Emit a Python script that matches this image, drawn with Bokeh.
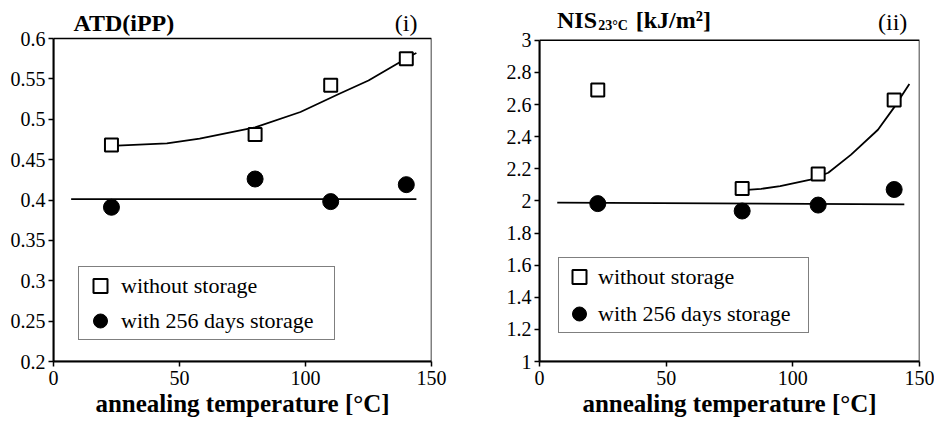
from bokeh.plotting import figure
from bokeh.layouts import row
from bokeh.models import Label, Legend, LegendItem, FixedTicker, BoxAnnotation
from bokeh.embed import file_html
from bokeh.resources import INLINE

# ---------------- data ----------------
temps = [23, 80, 110, 140]

atd_without = [0.468, 0.481, 0.542, 0.575]
atd_with = [0.391, 0.426, 0.398, 0.419]
atd_fit_x = [23, 45, 58, 80, 98, 113, 125, 142, 144]
atd_fit_y = [0.467, 0.470, 0.476, 0.490, 0.509, 0.531, 0.548, 0.579, 0.582]
atd_line_x = [7, 144]
atd_line_y = [0.401, 0.401]

nis_without = [2.690, 2.077, 2.168, 2.628]
nis_with = [1.983, 1.937, 1.974, 2.071]
nis_fit_x = [80.5, 87.5, 95, 107, 114, 123, 133.6, 140.2, 146]
nis_fit_y = [2.067, 2.075, 2.092, 2.133, 2.175, 2.288, 2.443, 2.587, 2.728]
nis_line_x = [7, 144]
nis_line_y = [1.989, 1.978]

x_ticks = [0, 50, 100, 150]
x_tick_labels = ["0", "50", "100", "150"]
atd_ticks = [0.2, 0.25, 0.3, 0.35, 0.4, 0.45, 0.5, 0.55, 0.6]
atd_tick_labels = ["0.2", "0.25", "0.3", "0.35", "0.4", "0.45", "0.5", "0.55", "0.6"]
nis_ticks = [1, 1.2, 1.4, 1.6, 1.8, 2, 2.2, 2.4, 2.6, 2.8, 3]
nis_tick_labels = ["1", "1.2", "1.4", "1.6", "1.8", "2", "2.2", "2.4", "2.6", "2.8", "3"]

x_label = "annealing temperature [°C]"
legend_labels = ["without storage", "with 256 days storage"]

FONT = "Liberation Serif"
X_MIN, X_MAX = 0, 150


def make_fig(y_min, y_max, yticks, ylabels, borders):
    bl, br, bt, bb = borders
    # extend the range upward so the panel titles sit inside the drawable area
    frame_h = 431 - bt - bb
    y_top = y_max + (y_max - y_min) * bt / frame_h
    p = figure(width=467, height=431, x_range=(X_MIN, X_MAX), y_range=(y_min, y_top),
               output_backend="svg", toolbar_location=None,
               min_border_left=bl, min_border_right=br,
               min_border_top=0, min_border_bottom=bb)
    p.xgrid.visible = False
    p.ygrid.visible = False
    p.outline_line_color = None
    p.background_fill_color = "white"
    p.border_fill_color = "white"
    p.add_layout(BoxAnnotation(left=X_MIN, right=X_MAX, bottom=y_min, top=y_max,
                               fill_alpha=0, line_color="black", line_width=1.5,
                               line_alpha=1))
    for ax in (p.xaxis[0], p.yaxis[0]):
        ax.axis_line_color = "black"
        ax.axis_line_width = 2
        ax.major_tick_line_color = "black"
        ax.major_tick_line_width = 1.5
        ax.major_tick_out = 5
        ax.major_tick_in = 0
        ax.minor_tick_line_color = None
        ax.major_label_text_font = FONT
        ax.major_label_text_font_size = "20px"
        ax.major_label_text_color = "black"
    p.xaxis.ticker = FixedTicker(ticks=x_ticks)
    p.xaxis.major_label_overrides = dict(zip(x_ticks, x_tick_labels))
    p.xaxis.major_label_standoff = 4
    p.xaxis.axis_label = x_label
    p.xaxis.axis_label_text_font = FONT
    p.xaxis.axis_label_text_font_size = "25px"
    p.xaxis.axis_label_text_font_style = "bold"
    p.xaxis.axis_label_text_color = "black"
    p.xaxis.axis_label_standoff = 2
    p.yaxis.ticker = FixedTicker(ticks=yticks)
    p.yaxis.bounds = (y_min, y_max)
    p.yaxis.major_label_overrides = dict(zip(yticks, ylabels))
    p.yaxis.major_label_standoff = 3
    return p


def add_series(p, fit_x, fit_y, line_x, line_y, without, with_, leg):
    p.line(fit_x, fit_y, line_color="black", line_width=1.8)
    p.line(line_x, line_y, line_color="black", line_width=1.8)
    sq = p.scatter(temps, without, marker="square", size=13,
                   fill_color="white", line_color="black", line_width=2)
    ci = p.scatter(temps, with_, marker="circle", size=16,
                   fill_color="black", line_color="black", line_width=1)
    pad, gw, spacing, standoff, lw, loc = leg
    legend = Legend(items=[LegendItem(label=legend_labels[0], renderers=[sq]),
                           LegendItem(label=legend_labels[1], renderers=[ci])],
                    location=loc, orientation="vertical",
                    padding=pad, margin=0, spacing=spacing,
                    glyph_width=gw, glyph_height=35,
                    label_standoff=standoff, label_width=lw,
                    label_text_font=FONT, label_text_font_size="22px",
                    label_text_color="black",
                    border_line_color="black", border_line_width=1.5,
                    background_fill_color="white", background_fill_alpha=1.0)
    p.add_layout(legend, "center")


# ---------------- panel (i) ----------------
p1 = make_fig(0.2, 0.6, atd_ticks, atd_tick_labels, (53, 36, 38, 70))
add_series(p1, atd_fit_x, atd_fit_y, atd_line_x, atd_line_y, atd_without, atd_with,
           (1, 40, 0, 1, 212, (25, 21)))
p1.add_layout(Label(x=7.9, y=0.6198, text="ATD(iPP)", text_font=FONT,
                    text_font_size="24px", text_font_style="bold",
                    text_color="black", text_baseline="alphabetic", text_align="left"))
p1.add_layout(Label(x=144.4, y=0.6198, text="(i)", text_font=FONT,
                    text_font_size="24px", text_color="black",
                    text_baseline="alphabetic", text_align="right"))

# ---------------- panel (ii) ----------------
p2 = make_fig(1, 3, nis_ticks, nis_tick_labels, (72, 15, 40, 68))
add_series(p2, nis_fit_x, nis_fit_y, nis_line_x, nis_line_y, nis_without, nis_with,
           (1, 38, 2, 0, 209, (19, 28)))
p2.add_layout(Label(x=6.9, y=3.124, text="NIS", text_font=FONT,
                    text_font_size="24px", text_font_style="bold",
                    text_color="black", text_baseline="alphabetic", text_align="left"))
p2.add_layout(Label(x=23.2, y=3.093, text="23°C", text_font=FONT,
                    text_font_size="14px", text_font_style="bold",
                    text_color="black", text_baseline="alphabetic", text_align="left"))
p2.add_layout(Label(x=38.0, y=3.124, text="[kJ/m²]", text_font=FONT,
                    text_font_size="24px", text_font_style="bold",
                    text_color="black", text_baseline="alphabetic", text_align="left"))
p2.add_layout(Label(x=145.2, y=3.113, text="(ii)", text_font=FONT,
                    text_font_size="24px", text_color="black",
                    text_baseline="alphabetic", text_align="right"))

layout = row(p1, p2, spacing=0)
open("out.html", "w").write(file_html(layout, INLINE))
